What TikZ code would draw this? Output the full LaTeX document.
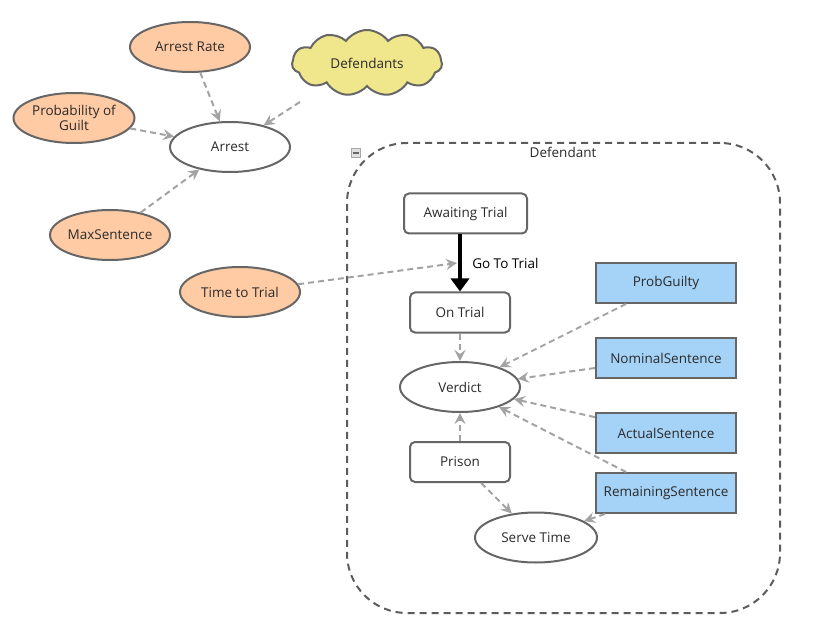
\documentclass[tikz,border=0pt]{standalone}
\usepackage{fontspec}
\setmainfont{Open Sans}
\usetikzlibrary{shapes.geometric,shapes.symbols,arrows.meta,calc}
\definecolor{bord}{HTML}{666666}
\definecolor{peach}{HTML}{FFCBA4}
\definecolor{khaki}{HTML}{F0E68C}
\definecolor{skyb}{HTML}{A5D3F7}
\definecolor{linkc}{HTML}{A3A3A3}
\definecolor{txt}{HTML}{2A2A2A}
\begin{document}
\begin{tikzpicture}[x=1pt,y=-1pt,
  every node/.style={font=\fontsize{13.5}{15}\selectfont, text=txt},
  varell/.style={ellipse, draw=bord, line width=2pt, fill=peach, minimum width=120pt, minimum height=50pt, inner sep=0pt, align=center},
  whiteell/.style={ellipse, draw=bord, line width=2pt, fill=white, minimum width=120pt, minimum height=50pt, inner sep=0pt},
  statebox/.style={rectangle, rounded corners=5pt, draw=bord, line width=2pt, fill=white, minimum height=40pt, inner sep=0pt},
  parbox/.style={rectangle, draw=bord, line width=2pt, fill=skyb, minimum width=140pt, minimum height=40pt, inner sep=0pt},
  link/.style={draw=linkc, line width=2pt, dash pattern=on 6pt off 4pt, -{Stealth[length=11pt,width=11pt,inset=4pt]}},
  flow/.style={draw=black, line width=4.5pt, -{Triangle[length=13pt,width=18pt]}}
]
\useasboundingbox (0,0) rectangle (817,639);
% container
\node[draw=bord!90!black, line width=2pt, dash pattern=on 7pt off 5pt, rounded corners=60pt, minimum width=433pt, minimum height=470pt, inner sep=0pt] (grp) at (563.5,378) {};
\node[inner sep=0pt] (grplabel) at (563,152) {Defendant};
\node[draw=gray!70, fill=gray!25, line width=0.8pt, minimum width=9pt, minimum height=9pt, inner sep=0pt] (minus) at (356,153) {};
\draw[gray!80!black, line width=1.2pt] ($(minus.center)+(-2.8,0)$) -- ($(minus.center)+(2.8,0)$);

% top-level nodes
\node[varell] (arate) at (190,47) {Arrest Rate};
\node[cloud, cloud puffs=11, cloud puff arc=110, aspect=2.4, draw=bord, line width=2pt, fill=khaki, minimum width=150pt, minimum height=66pt, inner sep=0pt] (defs) at (367,63) {Defendants};
\node[varell, minimum width=121pt, font=\fontsize{13.5}{14.5}\selectfont] (pguilt) at (74,118) {Probability of\\Guilt};
\node[whiteell] (arrest) at (230,147) {Arrest};
\node[varell] (maxs) at (110,235) {MaxSentence};
\node[varell] (ttt) at (240,292) {Time to Trial};

% inside
\node[statebox, minimum width=123pt] (await) at (465.5,213.5) {Awaiting Trial};
\node[statebox, minimum width=100pt] (ontrial) at (460,312.5) {On Trial};
\node[whiteell] (verdict) at (460,387) {Verdict};
\node[statebox, minimum width=100pt] (prison) at (460,462) {Prison};
\node[whiteell, minimum width=122pt] (serve) at (536,537.5) {Serve Time};
\node[parbox] (pg) at (666,283) {ProbGuilty};
\node[parbox] (ns) at (666,358) {NominalSentence};
\node[parbox] (as) at (666,433) {ActualSentence};
\node[parbox] (rs) at (666,493) {RemainingSentence};

% flow
\draw[flow] (await.south -| ontrial.north) -- (ontrial.north) node[pos=0.5, right=10pt, inner sep=0pt, text=black] (gtlabel) {Go To Trial};
\coordinate (flowmid) at ($(await.south -| ontrial.north)!0.5!(ontrial.north)+(-3,0)$);

% links
\draw[link] (arate) -- (arrest);
\draw[link] ($(defs.center)+(-67,39)$) coordinate (dfs) -- (arrest);
\draw[link] (pguilt) -- (arrest);
\draw[link] (maxs) -- (arrest);
\draw[link] (ttt) -- (flowmid);
\draw[link] (ontrial) -- (verdict);
\draw[link] (pg.south west)++(31,0) coordinate (pgs) (pgs) -- (verdict);
\draw[link] (ns) -- (verdict);
\draw[link] (as) -- (verdict);
\draw[link] ($(rs.north west)+(31,0)$) coordinate (rsn) -- (verdict);
\draw[link] (prison) -- (verdict);
\draw[link] (prison) -- (serve);
\draw[link] ($(rs.south west)+(10,0)$) coordinate (rss) -- (serve);
\end{tikzpicture}
\end{document}
